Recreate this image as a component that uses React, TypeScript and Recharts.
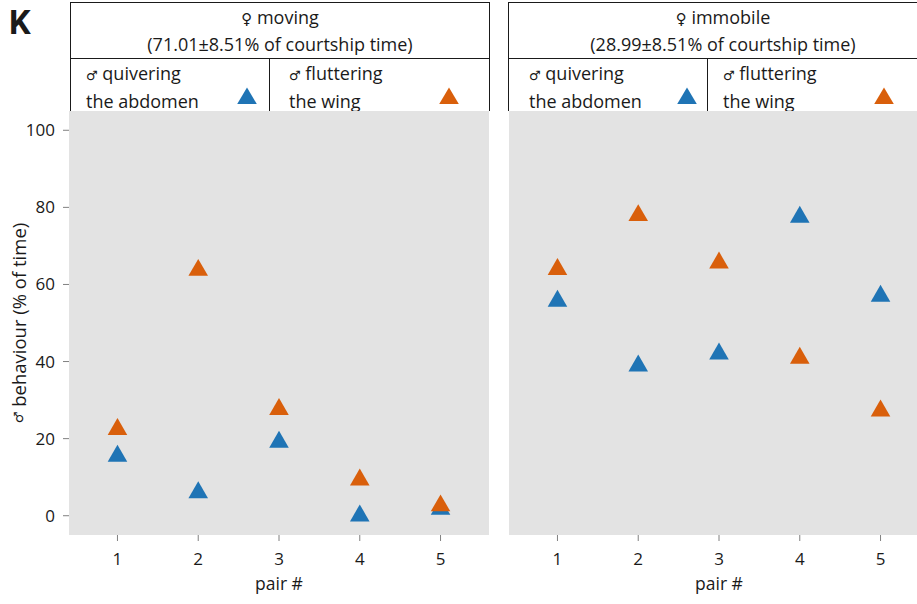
import React from 'react';
import { CartesianGrid, Label, Scatter, ScatterChart, XAxis, YAxis } from 'recharts';

const pairs = [1, 2, 3, 4, 5];
const yTicks = [0, 20, 40, 60, 80, 100];

// ♀ moving
const movingQuiver = [15.5, 6.0, 19.1, 0, 1.7];
const movingFlutter = [22.4, 63.7, 27.6, 9.3, 2.6];
// ♀ immobile
const immobileQuiver = [55.7, 38.9, 42.0, 77.5, 57.0];
const immobileFlutter = [63.9, 77.9, 65.6, 40.9, 27.2];

const BLUE = '#1f74b5';
const ORANGE = '#d95f0b';
const PANEL_BG = '#e3e3e3';
const INK = '#1a1a1a';
const FONT = '"Open Sans", sans-serif';
const SYM = '"DejaVu Sans", sans-serif';

const toRows = (vals: number[]) => pairs.map((p, i) => ({ pair: p, value: vals[i] }));

function Tri(props: any) {
  const { cx, cy, fill } = props;
  const r = 11.3;
  const hw = r * 0.866;
  return <polygon points={`${cx},${cy - r} ${cx + hw},${cy + r / 2} ${cx - hw},${cy + r / 2}`} fill={fill} />;
}

function LegendTri({ left, color }: { left: number; color: string }) {
  return (
    <svg style={{ position: 'absolute', left: left - 11, top: 86, overflow: 'visible' }} width={22} height={18}>
      <polygon points="11,1.5 20.8,18 1.2,18" fill={color} />
    </svg>
  );
}

const Male = () => <span style={{ fontFamily: SYM, fontSize: 13 }}>♂</span>;
const Female = () => <span style={{ fontFamily: SYM, fontSize: 15 }}>♀</span>;

const HEAD_SIZE = 18;
const HEAD_LINE = '24.6px';

function Header({ x, w, title, sub, blueX, orangeX, leftPad, rightPad }: any) {
  const line = `1px solid ${INK}`;
  const cell = { position: 'absolute' as const, top: 61, fontSize: HEAD_SIZE, lineHeight: HEAD_LINE, color: INK };
  return (
    <>
      <div
        style={{
          position: 'absolute', left: x, top: 2, width: w, height: 57, boxSizing: 'border-box', border: line,
          textAlign: 'center', fontSize: HEAD_SIZE, lineHeight: HEAD_LINE, paddingTop: 2, color: INK
        }}
      >
        <div><Female /> {title}</div>
        <div>{sub}</div>
      </div>
      <div style={{ position: 'absolute', left: x, top: 58, width: w, height: 53, boxSizing: 'border-box', borderLeft: line, borderRight: line }} />
      <div style={{ position: 'absolute', left: x + 199, top: 58, width: 1, height: 53, background: INK }} />
      <div style={{ ...cell, left: x + leftPad }}>
        <div><Male /> quivering</div>
        <div>the abdomen</div>
      </div>
      <div style={{ ...cell, left: x + 199 + rightPad }}>
        <div><Male /> fluttering</div>
        <div>the wing</div>
      </div>
      <LegendTri left={blueX} color={BLUE} />
      <LegendTri left={orangeX} color={ORANGE} />
    </>
  );
}

const tickStyle = { fill: INK, fontSize: 17, fontFamily: FONT };

function YTitle({ viewBox }: any) {
  const cx = viewBox.x + 18;
  const cy = viewBox.y + viewBox.height / 2;
  return (
    <text
      x={cx}
      y={cy}
      transform={`rotate(-90 ${cx} ${cy})`}
      textAnchor="middle"
      dominantBaseline="central"
      fill={INK}
      fontSize={18.5}
      fontFamily={FONT}
    >
      <tspan fontFamily={SYM} fontSize={13}>♂</tspan> behaviour (% of time)
    </text>
  );
}

function Panel({ quiver, flutter, showY, width, marginLeft }: any) {
  return (
    <ScatterChart width={width} height={604} margin={{ top: 111, right: 10, bottom: 0, left: marginLeft }}>
      <CartesianGrid fill={PANEL_BG} stroke="none" horizontal={false} vertical={false} />
      <XAxis
        type="number"
        dataKey="pair"
        domain={[0.4, 5.6]}
        ticks={pairs}
        allowDataOverflow
        height={69}
        axisLine={false}
        tickSize={6}
        tickMargin={12}
        tickLine={{ stroke: '#808080' }}
        tick={tickStyle}
      >
        <Label value="pair #" position="insideBottom" offset={14} style={{ fill: INK, fontSize: 17.5, fontFamily: FONT }} />
      </XAxis>
      <YAxis
        type="number"
        dataKey="value"
        domain={[-5, 105]}
        ticks={yTicks}
        allowDataOverflow
        hide={!showY}
        width={69}
        axisLine={false}
        tickSize={6}
        tickMargin={8}
        tickLine={{ stroke: '#808080' }}
        tick={tickStyle}
      >
        <Label content={YTitle} />
      </YAxis>
      <Scatter data={toRows(quiver)} fill={BLUE} shape={Tri} isAnimationActive={false} />
      <Scatter data={toRows(flutter)} fill={ORANGE} shape={Tri} isAnimationActive={false} />
    </ScatterChart>
  );
}

export default function App() {
  return (
    <div
      style={{
        position: 'fixed', left: 0, top: 0, width: 917, height: 604, overflow: 'hidden',
        background: '#fff', fontFamily: FONT, color: INK
      }}
    >
      <div style={{ position: 'absolute', left: 9, top: 2, fontSize: 34, fontWeight: 700, fontFamily: 'Roboto, sans-serif' }}>K</div>
      <Header x={70} w={420} title="moving" sub="(71.01±8.51% of courtship time)" blueX={247} orangeX={449} leftPad={16} rightPad={20} />
      <Header x={508} w={430} title="immobile" sub="(28.99±8.51% of courtship time)" blueX={687} orangeX={884} leftPad={21} rightPad={16} />
      <div style={{ position: 'absolute', left: 0, top: 0 }}>
        <Panel quiver={movingQuiver} flutter={movingFlutter} showY width={499} marginLeft={0} />
      </div>
      <div style={{ position: 'absolute', left: 499, top: 0 }}>
        <Panel quiver={immobileQuiver} flutter={immobileFlutter} showY={false} width={440} marginLeft={10} />
      </div>
    </div>
  );
}
